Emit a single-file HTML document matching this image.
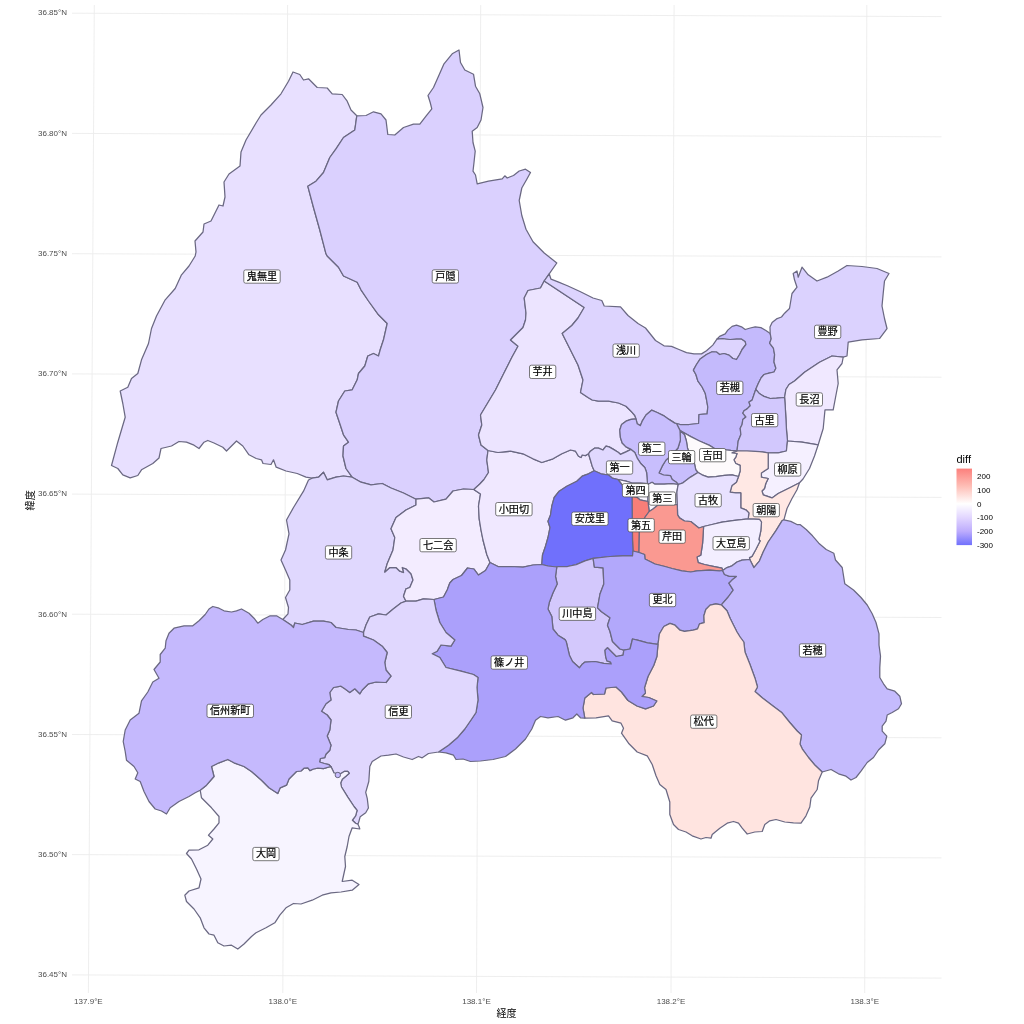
<!DOCTYPE html>
<html lang="ja"><head><meta charset="utf-8"><title>diff map</title>
<style>html,body{margin:0;padding:0;background:#fff}body{width:1024px;height:1024px;overflow:hidden}svg{display:block}text{font-family:"Liberation Sans","Noto Sans CJK JP",sans-serif}.g line{stroke:#ececec;stroke-width:.9}.d path{stroke:#6a6882;stroke-width:1.25;stroke-linejoin:round}.l rect{fill:#fff;stroke:#4d4d4d;stroke-width:.75}.l text{font-size:10.1px;fill:#000;text-anchor:middle;stroke:#000;stroke-width:.2px}.t text{font-size:8px;fill:#4d4d4d}</style></head><body>
<svg width="1024" height="1024" viewBox="0 0 1024 1024">
<rect width="1024" height="1024" fill="#fff"/>
<g class="g">
<line x1="72" y1="13.2" x2="941.5" y2="16.6"/>
<line x1="72" y1="133.4" x2="941.5" y2="136.8"/>
<line x1="72" y1="253.7" x2="941.5" y2="256.9"/>
<line x1="72" y1="373.9" x2="941.5" y2="377.2"/>
<line x1="72" y1="494.1" x2="941.5" y2="497.4"/>
<line x1="72" y1="614.2" x2="941.5" y2="617.5"/>
<line x1="72" y1="734.5" x2="941.5" y2="737.8"/>
<line x1="72" y1="854.6" x2="941.5" y2="857.9"/>
<line x1="72" y1="974.9" x2="941.5" y2="978.1"/>
<line x1="94.3" y1="5" x2="88.4" y2="993"/>
<line x1="287.6" y1="5" x2="282.8" y2="993"/>
<line x1="480.7" y1="5" x2="476.5" y2="993"/>
<line x1="674.1" y1="5" x2="671" y2="993"/>
<line x1="866.8" y1="5" x2="864.7" y2="993"/>
</g>
<g class="d">
<path fill="rgb(232,224,255)" d="M312,478.2 306,477.2 297.2,473.5 286,471 276.2,467.2 273.5,459.8 271,464.5 263,463.5 261.5,459.8 256.2,458.5 249,454.8 242.8,446 236.5,441 231.5,446 226.5,451 222.8,447.2 214,443 207.8,440.5 204,442.2 199,448.5 194,445.2 186.5,442.2 179,441.5 171.5,446 161,448.5 159,458 152.8,463.5 141.5,469.8 137.8,475.5 130.2,477.8 122.8,474.8 117.8,468.5 111.5,465.5 117.8,442.2 125.2,417.2 122.8,403.5 120.2,391 127.8,387.2 131.5,378.5 137.8,373.5 141.5,359.8 148.5,343.5 151.5,328.5 156.5,316 165.2,299.8 175.2,288.5 181.5,274.8 189,266 195.2,256 196,252 195,241 203,232 204,224 211,221 219,205 223,206 225,197 224,182 229,174 240,166 241,152 246,140 256,123 261,115 271,105 281,93.8 288.5,81.2 293,72 299.8,74.5 303.5,80 308.5,78.8 317.2,87.5 327.2,88 332.2,93.8 342.2,94.5 347.2,101.2 351,110 356.8,115.8 354.8,130 343.5,137.5 336,148.8 329.8,157.5 323.5,172.5 316,181.2 307.8,186.2 313.5,207.5 319.8,230 326,253.8 327.2,256 338.5,267.2 343.5,276 357.2,282.2 361,289.8 368.5,301 378.5,314.8 387.2,323.5 383.5,339.8 380.2,349.8 378.5,356 373.5,353.5 367.8,356 364.8,366 358.5,373.5 357.2,379.8 352.2,389.8 344.8,391 338.5,401 336,412.2 339.8,423.5 343.5,434.8 348.5,442.2 343.5,446 343,456 346,468.5 352.2,477.2 343.5,476 336,477.2 327.2,479.8 323.5,472.2 318.5,477.2Z"><title>鬼無里</title></path>
<path fill="rgb(218,208,254)" d="M356.8,115.8 366,115.5 373.5,111.8 381,113.8 386,120 387.8,134.5 394.8,135 403.5,127.5 413.5,124.2 419.8,124.2 426,116.2 431.8,108.8 430.2,102.5 428,95.5 433.5,87.5 438.5,76.2 444,63.8 452.2,53.8 459,50 460.5,62.5 464.8,70 473.5,74.2 475.5,86.2 479.8,93.8 483,107.5 481,120 477.2,127.5 472.2,131.2 473,142.5 475.2,151.2 474,162.5 473,171.2 475.5,175 477.2,183.8 488.5,181.2 502.2,178.8 504.8,175.8 507.2,178 513.5,175.5 519.2,171 525.5,169.2 530.5,172.5 526.8,179.2 521.8,188 519.2,200.5 521.8,215.5 526,229.2 533,241.8 544.2,253 556.8,263 549.2,273.8 544.2,281 540.5,288 528,290.5 524.2,298 526,313 525.5,320 523,327.5 510.5,340 518,346.2 511.8,357.5 503,375 495.5,390 488,402.5 480.5,415 481.8,425 478.5,435 481,445 488,450.5 486.8,460 488.5,472.5 484,479.5 479.8,484 473.8,489.5 463.5,489 453,491 446,499.2 434,502 428.5,497.8 416,499.2 403.5,493 391,488 382.2,483.5 371,484.8 361,482.2 352.2,477.2 346,468.5 343,456 343.5,446 348.5,442.2 343.5,434.8 339.8,423.5 336,412.2 338.5,401 344.8,391 352.2,389.8 357.2,379.8 358.5,373.5 364.8,366 367.8,356 373.5,353.5 378.5,356 380.2,349.8 383.5,339.8 387.2,323.5 378.5,314.8 368.5,301 361,289.8 357.2,282.2 343.5,276 338.5,267.2 327.2,256 326,253.8 319.8,230 313.5,207.5 307.8,186.2 316,181.2 323.5,172.5 329.8,157.5 336,148.8 343.5,137.5 354.8,130Z"><title>戸隠</title></path>
<path fill="rgb(224,216,254)" d="M282.8,619.5 288,613.8 288.5,607.5 285.5,597.5 289.8,590 289.8,580 285.5,570 281,560 285.5,550 289,533.8 286.5,520 293.5,507.5 303.5,491.2 308.5,480 312,478.2 318.5,477.2 323.5,472.2 327.2,479.8 336,477.2 343.5,476 352.2,477.2 361,482.2 371,484.8 382.2,483.5 391,488 403.5,493 416,499.2 416,505 406,510 396,517.5 391,528.8 394.8,537.5 393,550 387.2,563.8 384.8,572 389.8,567.5 396,567.5 399.8,571.2 403.5,572.5 402.2,567.5 406,568.8 411,573.8 413,580 409.8,587.5 406,588.8 403.5,596.2 406,601.2 401,603 393.5,608.8 386,615 378.5,613.8 369.8,617 366,625 363.5,632.5 356,630 348.5,629.5 336,627.5 331,622.5 323.5,621.2 313.5,621.2 302.2,624.5 294.8,623 293.5,627.5 291,625Z"><title>中条</title></path>
<path fill="rgb(243,236,255)" d="M416,499.2 428.5,497.8 434,502 446,499.2 453,491 463.5,489 473.8,489.5 480.5,494 478.5,506 479.2,518.8 481,530 483,540 486.8,554.5 490,562.5 485.5,570.5 478.5,575 474,569 467.5,568 461.5,575.5 453,579.5 449.8,583 447.2,590 443.5,597 434,599.5 423.5,598.8 416,601.2 406,601.2 403.5,596.2 406,588.8 409.8,587.5 413,580 411,573.8 406,568.8 402.2,567.5 403.5,572.5 399.8,571.2 396,567.5 389.8,567.5 384.8,572 387.2,563.8 393,550 394.8,537.5 391,528.8 396,517.5 406,510 416,505Z"><title>七二会</title></path>
<path fill="rgb(240,232,255)" d="M473.8,489.5 479.8,484 484,479.5 488.5,472.5 486.8,460 488,450.5 498,452.5 510.5,451.2 523,453.8 533,458.8 541.8,462.5 553,458.8 561.8,453.8 570.5,450 575.5,451.2 578.5,456.2 581,457.5 582.2,455 585.4,455.6 588.5,453.8 590.4,460 592.2,466.2 594.2,470.8 588.5,473.8 582.2,476.2 576.8,481.2 566.8,486.2 559.2,491.2 554.2,497.5 551.8,506.2 550.5,515 548,521.2 550,527.5 548,537.5 545.5,546.2 542.5,555 541.8,564.5 533,565 523,567.2 510.5,566.5 498,566.5 490,562.5 486.8,554.5 483,540 481,530 479.2,518.8 478.5,506 480.5,494Z"><title>小田切</title></path>
<path fill="rgb(236,228,255)" d="M488,450.5 481,445 478.5,435 481.8,425 480.5,415 488,402.5 495.5,390 503,375 511.8,357.5 518,346.2 510.5,340 523,327.5 525.5,320 526,313 524.2,298 528,290.5 540.5,288 544.2,281 584.2,307.5 578,318 571.8,325.5 562.2,333.5 570.5,350 578,365 583,380 580.5,392.5 588,397.5 592.2,400 598.5,401.2 608.5,401.2 618.5,403 626,406.2 631,411.2 634.8,415.5 636,418.8 631,419.4 626,421.2 621.6,424.4 619.8,430 620.4,437.5 622.2,443 626,446.9 631,449.4 626,451.9 620.4,454.4 618.5,452.5 613.5,449.4 609.1,446.9 606,446.2 602.9,450 598.5,448.1 594.8,448.1 590.4,451.2 588.5,453.8 585.4,455.6 582.2,455 581,457.5 578.5,456.2 575.5,451.2 570.5,450 561.8,453.8 553,458.8 541.8,462.5 533,458.8 523,453.8 510.5,451.2 498,452.5Z"><title>芋井</title></path>
<path fill="rgb(221,212,254)" d="M544.2,281 549.2,273.8 551,279.2 558,281.8 568,286 580.5,291.8 593,298 601.8,300.5 604.2,306 620.5,306.8 628,315.5 638,323.5 645.5,328 655.5,340.5 664,345.8 671.5,346.4 679,349.5 686.5,352.6 694,353.9 701.5,353.9 706.5,350.8 712.8,345.1 717.1,338.9 722.8,338.5 730.2,339.5 736.5,338.9 741.5,338.9 745.2,341.4 745.9,344.5 742.1,349.5 739.6,354.5 736.5,359.5 732.8,358.5 729,355.1 724,353.5 719.6,354.5 716.5,352 712.1,351.8 706.5,354.5 700.2,358.9 696.5,364.5 693.4,370.1 695.9,374.5 697.8,380.8 702.1,387 705.2,393.2 706.5,399.5 707.8,407 707.1,413.9 699,414.5 698.6,423.5 689,424.5 680.2,424.5 676.5,423.5 674.8,423.1 669,419.4 663.5,415.6 657.2,412.5 651.6,410.2 646,415 642.2,421.2 640.4,425.6 637.2,423.8 636,418.8 634.8,415.5 631,411.2 626,406.2 618.5,403 608.5,401.2 598.5,401.2 592.2,400 588,397.5 580.5,392.5 583,380 578,365 570.5,350 562.2,333.5 571.8,325.5 578,318 584.2,307.5Z"><title>浅川</title></path>
<path fill="rgb(196,186,252)" d="M717.1,338.9 719.6,336.4 725.2,333.9 727.8,330.1 732.1,326.4 736.5,325.1 741.5,326.8 745.2,329.5 750.2,328 755.2,326.8 760.9,327.6 765.9,330.5 770.2,333.5 771.2,338.9 769.6,343.2 773.4,348.2 774.6,354.5 774,362 775.9,368.2 774,372 769,373.2 764,374.5 760.9,378.2 758.4,383.2 755.8,389.3 754,394.5 752.1,400.1 749,402 750.2,405.8 747.1,408.9 744,410.8 742.8,413.2 745.9,417 742.8,419.5 742.1,424.5 740.2,428.2 740.9,434.5 738.2,441 737,450.8 730.8,450.4 722,449.5 714.5,448.5 709.5,445.4 699.5,441 690.8,436.6 680,430.5 676.5,423.5 680.2,424.5 689,424.5 698.6,423.5 699,414.5 707.1,413.9 707.8,407 706.5,399.5 705.2,393.2 702.1,387 697.8,380.8 695.9,374.5 693.4,370.1 696.5,364.5 700.2,358.9 706.5,354.5 712.1,351.8 716.5,352 719.6,354.5 724,353.5 729,355.1 732.8,358.5 736.5,359.5 739.6,354.5 742.1,349.5 745.9,344.5 745.2,341.4 741.5,338.9 736.5,338.9 730.2,339.5 722.8,338.5Z"><title>若槻</title></path>
<path fill="rgb(219,210,254)" d="M770.2,333.5 770,327 772.1,322.6 776.5,318.9 781.5,317 784.6,313.2 789.5,308.5 792,293.5 797,287.2 794.5,279.8 793.2,273.5 797,271 798.2,277.2 802,267.2 808.2,274.8 817,281 827,277.2 838.2,271 847,265.5 862,266.5 877,268.5 889,273.5 884.5,281 883.2,293.5 882,306 884.5,318.5 887,328.5 879.5,338.5 862,339.8 848.2,342.2 847,356 843.2,357.2 832,356 819.5,362.2 804.5,372.2 794.5,381 789,384.5 785.9,389.5 784.6,397.5 776.5,398.2 770.2,398.5 764,396.4 759,393.2 755.8,389.3 758.4,383.2 760.9,378.2 764,374.5 769,373.2 774,372 775.9,368.2 774,362 774.6,354.5 773.4,348.2 769.6,343.2 771.2,338.9Z"><title>豊野</title></path>
<path fill="rgb(240,232,255)" d="M843.2,357.2 842,363.5 837,369.8 838.2,383.5 835.8,396 833.2,409.8 825,409.8 823.2,428.5 818.2,444.8 802,442.2 787.5,441 786.5,430 785.9,418.2 785.2,405.8 784.6,397.5 785.9,389.5 789,384.5 794.5,381 804.5,372.2 819.5,362.2 832,356Z"><title>長沼</title></path>
<path fill="rgb(210,200,253)" d="M755.8,389.3 759,393.2 764,396.4 770.2,398.5 776.5,398.2 784.6,397.5 785.2,405.8 785.9,418.2 786.5,430 787.5,441 786.4,451 778.2,452.9 768.2,452.8 759.5,451.6 747,451 737,450.8 738.2,441 740.9,434.5 740.2,428.2 742.1,424.5 742.8,419.5 745.9,417 742.8,413.2 744,410.8 747.1,408.9 750.2,405.8 749,402 752.1,400.1 754,394.5Z"><title>古里</title></path>
<path fill="rgb(245,240,255)" d="M787.5,441 802,442.2 818.2,444.8 814.5,456 809.5,468.5 803,479 799.5,482.7 790.8,487.2 778.2,493.5 772,497.9 763.2,494.8 762,491 764.5,488.5 765.8,483.5 768.2,478.5 761.4,477.2 761.4,472.9 768.2,468.5 768.2,452.8 778.2,452.9 786.4,451Z"><title>柳原</title></path>
<path fill="rgb(255,232,228)" d="M737,450.8 747,451 759.5,451.6 768.2,452.8 768.2,468.5 761.4,472.9 761.4,477.2 768.2,478.5 765.8,483.5 764.5,488.5 762,491 763.2,494.8 772,497.9 778.2,493.5 790.8,487.2 799.5,482.7 797,489.8 792,498.5 787,508.5 783.9,519.8 782,520.8 775.8,530.8 768.2,542 763.2,552 759.5,560.8 753.9,567.6 749.8,559.5 749.5,557.6 752,556.4 755.8,549.5 760.1,541 758.9,539.5 760.8,530.8 761.5,522 759.5,519.3 748.2,518.8 748.9,512.9 745.8,509.8 740.8,507.9 740.8,501 740.8,492.9 735.8,492.9 730.1,492.2 732,485.4 736.4,482.2 738.5,476.5 740.1,471 740.1,465.4 735.8,463.5 733.9,459.8 735.8,457.2 737,453.5 732,452.9Z"><title>朝陽</title></path>
<path fill="rgb(253,250,252)" d="M680,430.5 690.8,436.6 699.5,441 709.5,445.4 714.5,448.5 722,449.5 730.8,450.4 737,450.8 732,452.9 737,453.5 735.8,457.2 733.9,459.8 735.8,463.5 740.1,465.4 740.1,471 738.5,476.5 732,474.8 724.5,475.4 715.8,476.6 708.2,477.2 702,474.8 698,472.5 695.8,469.8 694.5,463.8 691,457 687.6,448.5 686.4,441 684.5,434.8Z"><title>吉田</title></path>
<path fill="rgb(200,190,253)" d="M680,430.5 684.5,434.8 686.4,441 687.6,448.5 691,457 694.5,463.8 695.8,469.8 698,472.5 690.5,477.1 683,482.8 678.3,484.5 676,481.9 672.2,479.4 670.4,475.6 663.5,475 659,473 662.2,466.2 666,460 672,455 678,448 680.4,440Z"><title>三輪</title></path>
<path fill="rgb(200,190,253)" d="M636,418.8 637.2,423.8 640.4,425.6 642.2,421.2 646,415 651.6,410.2 657.2,412.5 663.5,415.6 669,419.4 674.8,423.1 676.5,423.5 680,430.5 680.4,440 678,448 672,455 666,460 662.2,466.2 659,473 663.5,475 670.4,475.6 672.2,479.4 676,481.9 678.3,484.5 671.8,483.7 664.2,484.2 654.9,484.2 652.1,482.3 648.3,484.2 647.5,483.5 647.2,480 646.6,472.5 644.8,467.5 641,463.8 637.2,458.1 634.8,452.5 631,449.4 626,446.9 622.2,443 620.4,437.5 619.8,430 621.6,424.4 626,421.2 631,419.4Z"><title>第二</title></path>
<path fill="rgb(224,216,254)" d="M631,449.4 626,451.9 620.4,454.4 618.5,452.5 613.5,449.4 609.1,446.9 606,446.2 602.9,450 598.5,448.1 594.8,448.1 590.4,451.2 588.5,453.8 590.4,460 592.2,466.2 594.2,470.8 601,473.8 608.5,475 612.2,478.1 618,479.5 626,481.2 632.2,483 640,483 647.5,483.5 647.2,480 646.6,472.5 644.8,467.5 641,463.8 637.2,458.1 634.8,452.5Z"><title>第一</title></path>
<path fill="rgb(250,247,255)" d="M618,479.5 626,481.2 632.2,483 640,483 647.5,483.5 648,492 648,501.5 643.6,500.6 639.9,499.8 637.2,497.5 632,496.5 629.8,495 626,490 622.2,485Z"><title>第四</title></path>
<path fill="rgb(250,248,255)" d="M647.5,483.5 648.3,484.2 652.1,482.3 654.9,484.2 664.2,484.2 671.8,483.7 678.3,484.5 677.8,486.5 676.9,492.1 677.3,504.5 657.7,505.2 653,509 649.2,511.5 648,501.5 648,492Z"><title>第三</title></path>
<path fill="rgb(248,126,120)" d="M632,496.5 637.2,497.5 639.9,499.8 643.6,500.6 648,501.5 649.2,511.5 645.5,516.5 641,524 639.4,529.6 639,552.5 633,551 632.5,540 632.2,512Z"><title>第五</title></path>
<path fill="rgb(232,225,255)" d="M678.3,484.5 683,482.8 690.5,477.1 698,472.5 702,474.8 708.2,477.2 715.8,476.6 724.5,475.4 732,474.8 738.5,476.5 736.4,482.2 732,485.4 730.1,492.2 735.8,492.9 740.8,492.9 740.8,501 740.8,507.9 745.8,509.8 748.9,512.9 748.2,518.8 734.5,520.4 722,522.2 712,524.5 703.6,526.5 698.9,528 694.5,524.6 690.8,521.5 684.5,521 679.5,517.9 677.6,514.8 677.3,504.5 676.9,492.1 677.8,486.5Z"><title>古牧</title></path>
<path fill="rgb(243,238,255)" d="M703.6,526.5 712,524.5 722,522.2 734.5,520.4 748.2,518.8 759.5,519.3 761.5,522 760.8,530.8 758.9,539.5 760.1,541 755.8,549.5 752,556.4 749.5,557.6 749.8,559.5 742,560.1 737,562 732,565.8 727,567.6 722.6,570.5 722,568.2 713.2,566.4 704.5,564.5 698.2,562.6 697,557 700.8,555.1 702.6,543.2Z"><title>大豆島</title></path>
<path fill="rgb(250,153,145)" d="M649.2,511.5 653,509 657.7,505.2 677.3,504.5 677.6,514.8 679.5,517.9 684.5,521 690.8,521.5 694.5,524.6 698.9,528 703.6,526.5 702.6,543.2 700.8,555.1 697,557 698.2,562.6 704.5,564.5 713.2,566.4 722,568.2 722.6,570.5 719.5,570.8 709.5,570.1 697,570.8 690.8,572 682,570.8 672,568.5 665,566.5 655,564 645,559 644.6,554.5 639,552.5 639.4,529.6 641,524 645.5,516.5Z"><title>芹田</title></path>
<path fill="rgb(112,112,252)" d="M594.2,470.8 601,473.8 608.5,475 612.2,478.1 618,479.5 622.2,485 626,490 629.8,495 632,496.5 632.2,512 632.5,540 633,551 632.5,555.9 622.5,555.9 610,556.5 593.1,558.4 585,560.9 576.2,564.6 567.5,566.5 558,566.5 556.8,567 548,566 541.8,564.5 542.5,555 545.5,546.2 548,537.5 550,527.5 548,521.2 550.5,515 551.8,506.2 554.2,497.5 559.2,491.2 566.8,486.2 576.8,481.2 582.2,476.2 588.5,473.8Z"><title>安茂里</title></path>
<path fill="rgb(211,200,252)" d="M556.8,567 558,566.5 567.5,566.5 576.2,564.6 585,560.9 593.1,558.4 594.4,567.1 603.1,567.8 603.8,584 600,594 597.5,607.8 601.2,611.5 610,617.8 607.5,625.2 610,631.5 612.5,641.5 616.2,645.2 620,649 623.8,650.2 623.1,655.2 616.2,656.5 611.2,651.5 607.5,647.8 605,650.2 605.6,656.5 606.9,660.9 610.6,662.1 611.2,664 603.8,663.4 595,661.5 585,662.1 581.9,664.6 579.4,667.8 572.5,661.5 569.4,655.2 566.2,641.5 565,639.6 558,635.2 553,629 551.8,616.5 548,609 549.2,602.8 553,592.8 557.2,584 555.5,576.5Z"><title>川中島</title></path>
<path fill="rgb(178,168,251)" d="M593.1,558.4 610,556.5 622.5,555.9 632.5,555.9 633,551 639,552.5 644.6,554.5 645,559 655,564 665,566.5 672,568.5 682,570.8 690.8,572 697,570.8 709.5,570.1 719.5,570.8 722.6,570.5 724.5,574.5 729.5,576.4 736.4,576.4 732,580.1 728.9,583.2 733.2,590.1 728.2,597 721.3,604.8 715.8,603.9 710.1,605.1 705.8,609.5 703.9,615.8 704.2,622.6 699.5,623.9 697.6,628.9 693.2,630.1 684.5,631.4 680,630.2 675,625.2 670,623.4 663.8,626.5 659.4,634 658,644.3 647.5,642.8 637.5,640.2 632.5,639 630,649 623.8,650.2 620,649 616.2,645.2 612.5,641.5 610,631.5 607.5,625.2 610,617.8 601.2,611.5 597.5,607.8 600,594 603.8,584 603.1,567.8 594.4,567.1Z"><title>更北</title></path>
<path fill="rgb(197,187,253)" d="M783.9,519.8 790.8,521.4 797,524.5 800,524.5 806.2,529.5 812.5,535.8 818.8,543.2 826.2,549.5 833.8,553.2 835.5,560 842.2,567.5 844.8,583.8 853.5,590 861,597.5 867.2,605 872.2,613.8 876,622.5 879,633.8 879,645 880.5,656.2 879.8,667.5 879.8,677.5 883.5,683.8 887.2,688.8 894.8,691.2 899.8,696.2 901.5,703.8 898.5,708.8 892.2,712.5 887.2,715 886,721.2 882.2,726.2 882.2,731.2 886.8,736.2 884.8,743.8 878.5,750 873.5,757.5 867.2,762.5 861,771.2 856,777.5 851,780 846,776.2 838.5,773.8 831,769.5 822.2,772 814.8,765 808.5,757.5 802.2,748.8 800,744 801.5,735 797.2,731 789.8,722.5 782,712.8 773,706 762.5,698 755,691.5 757.5,687 755,678.2 750,664.5 745,652 743.8,642 740.1,637 737,632 733.2,624.5 730.1,618.2 727,610.8 721.3,604.8 728.2,597 733.2,590.1 728.9,583.2 732,580.1 736.4,576.4 729.5,576.4 724.5,574.5 722.6,570.5 727,567.6 732,565.8 737,562 742,560.1 749.8,559.5 753.9,567.6 759.5,560.8 763.2,552 768.2,542 775.8,530.8 782,520.8Z"><title>若穂</title></path>
<path fill="rgb(255,228,224)" d="M822.2,772 818.5,780.8 817.2,789.5 811,798.2 809.8,807 806,815.8 801,823.2 793.5,822.8 784.8,822 776,819.5 769.8,820.8 764.8,824.5 762.2,831.5 754.8,832 747.2,834 742.2,828.2 738.5,823.2 733.5,821.5 727.2,823.2 719.8,828.2 712.2,834.5 711,838.2 706,837.5 701,839 692.2,835.8 686,832 678.5,829.5 673.5,824.5 669.8,814.5 669.8,802 666,789.5 659.8,784.5 656,775.8 652.2,764.5 647.2,755.8 637.2,752 628.5,743.2 621.5,733.2 623.5,728.2 621,723.2 612.2,720.8 608.5,715.8 596,717.8 584.8,718.2 583,708 584.8,698 591.5,692.5 593.5,694.5 604.5,694 606,688 616,687 621.5,692 628,700.5 637,706 645.5,708.8 653.5,706 656.8,701 648.8,697.5 642,696.5 645.5,693 644.5,687.8 648,676.5 653.8,665.2 656.9,656.5 658,644.3 659.4,634 663.8,626.5 670,623.4 675,625.2 680,630.2 684.5,631.4 693.2,630.1 697.6,628.9 699.5,623.9 704.2,622.6 703.9,615.8 705.8,609.5 710.1,605.1 715.8,603.9 721.3,604.8 727,610.8 730.1,618.2 733.2,624.5 737,632 740.1,637 743.8,642 745,652 750,664.5 755,678.2 757.5,687 755,691.5 762.5,698 773,706 782,712.8 789.8,722.5 797.2,731 801.5,735 800,744 802.2,748.8 808.5,757.5 814.8,765Z"><title>松代</title></path>
<path fill="rgb(171,160,251)" d="M584.8,718.2 580.5,717.8 576.8,714 573,717.8 565.5,720.2 558,716.5 548,717.8 540.5,716.5 535.5,720.2 531.8,729 525.5,739 515.5,749 505.5,756.5 493,759.5 480.5,761 470.5,761.5 463,759 456,759.5 453.5,755.2 446,752.8 438.5,752 448.5,745.2 457.2,737.8 464.8,729 471,720 476,712.5 478,700 477,687.5 478,677.5 473.5,674.5 461,671.2 446,667.5 439.8,657.5 432.2,653.8 437.2,651.2 441,645 451,646.2 454.8,640 446,632.5 439.8,622.5 436,610 434,599.5 443.5,597 447.2,590 449.8,583 453,579.5 461.5,575.5 467.5,568 474,569 478.5,575 485.5,570.5 490,562.5 498,566.5 510.5,566.5 523,567.2 533,565 541.8,564.5 548,566 556.8,567 555.5,576.5 557.2,584 553,592.8 549.2,602.8 548,609 551.8,616.5 553,629 558,635.2 565,639.6 566.2,641.5 569.4,655.2 572.5,661.5 579.4,667.8 581.9,664.6 585,662.1 595,661.5 603.8,663.4 611.2,664 610.6,662.1 606.9,660.9 605.6,656.5 605,650.2 607.5,647.8 611.2,651.5 616.2,656.5 623.1,655.2 623.8,650.2 630,649 632.5,639 637.5,640.2 647.5,642.8 658,644.3 656.9,656.5 653.8,665.2 648,676.5 644.5,687.8 645.5,693 642,696.5 648.8,697.5 656.8,701 653.5,706 645.5,708.8 637,706 628,700.5 621.5,692 616,687 606,688 604.5,694 593.5,694.5 591.5,692.5 584.8,698 583,708Z"><title>篠ノ井</title></path>
<path fill="rgb(224,215,254)" d="M438.5,752 428.5,753.5 422.2,757.8 418.5,756.5 412.2,759.5 403.5,757 396,754 388.5,755.2 381,756 372.2,761.5 369.8,766.5 368.8,781.5 365.7,792.4 367.3,798.7 368.4,808 365.7,812.8 360.2,816.7 358.7,822.1 357.9,824.3 355.6,823.3 352.4,820.2 355.6,815.9 357.1,810.4 354,806.5 347.8,797.1 341.5,787 340.7,783 342.3,779.2 346.2,776 349.3,773.3 347.8,771.3 344.6,771.3 341,773.5 334,773 332.5,769.8 331,766.7 329,764.7 324.3,763.5 319.6,762 320.4,758.5 324.7,757.7 325.9,754.2 329.8,750.2 331,745.2 327.2,736 329.8,730 331,720 327.2,715 321.5,711.2 326,703.8 331,700 329.8,692.5 333.5,687.5 341,686.2 344.8,688.8 349.8,692.5 354.8,688.8 359.8,693.8 362.2,690 368.5,683.8 376,682 386,682.5 391,676.2 386,670 384.8,662.5 387.2,652.5 382.2,646.2 373.5,640 363.5,636.2 363.5,632.5 366,625 369.8,617 378.5,613.8 386,615 393.5,608.8 401,603 406,601.2 416,601.2 423.5,598.8 434,599.5 436,610 439.8,622.5 446,632.5 454.8,640 451,646.2 441,645 437.2,651.2 432.2,653.8 439.8,657.5 446,667.5 461,671.2 473.5,674.5 478,677.5 477,687.5 478,700 476,712.5 471,720 464.8,729 457.2,737.8 448.5,745.2Z"><title>信更</title></path>
<path fill="rgb(247,244,255)" d="M357.9,824.3 359,826.5 359.8,829 352.2,827.8 349,836.5 347.2,846.5 344.8,856.5 345.5,866.5 342.2,881.5 352.2,880.2 359,884.5 352.2,890.2 341,892 331,892.8 322.2,895.2 312.2,900.2 301,904 293.5,903.5 286,907.8 279.8,915.2 274.8,922.8 266,927.8 256,932.8 251.5,936.5 244,944 237.8,949 231.5,945.2 224,946 217.8,942.8 214,935.2 209,934 204,927.8 200.2,917.8 194,909 186.5,901.5 184.8,895.2 189,891 199,887.8 201,879 196.5,869 191.5,859 186.5,853.5 189,850.2 199,849.8 207.8,845.2 212.8,839 208.5,835.2 214,829 219,822.8 219,816.5 211.5,807.8 201.5,797.8 200.2,790.2 206.5,785.2 214,776.5 211.5,766.5 219,762.8 227.8,759.5 234,762.8 244,766.5 251.5,771.5 261.5,780.2 269,787.8 277.8,793.5 280.2,787.8 286.5,785.2 289,779 296.5,771.5 301,771 304,768.2 307.9,767.8 309.9,770.6 313.4,769 318,768.2 323.5,768.6 329,767 331,766.7 332.5,769.8 334,773 341,773.5 344.6,771.3 347.8,771.3 349.3,773.3 346.2,776 342.3,779.2 340.7,783 341.5,787 347.8,797.1 354,806.5 357.1,810.4 355.6,815.9 352.4,820.2 355.6,823.3Z"><title>大岡</title></path>
<path fill="rgb(197,185,253)" d="M200.2,790.2 195.2,792.8 189,796.5 179,801.5 170.2,807.8 166.5,814 161.5,811 155.2,809 149,801.5 144,791.5 140.2,781.5 135.2,779 137.8,772.8 134,766.5 126.5,760.2 125.2,751.5 123.2,741.5 125.2,730 130.2,720 139,713.2 141.5,700.8 147.8,692 152.8,682 159,678.2 154,669.5 160.2,662 160.2,654.5 165.2,648.2 166,640.8 169,633.2 174,628.2 184,625.8 192.8,625.8 199,620.8 205.2,614.5 209,609 212.8,606.5 219,608.2 224,610.8 231.5,612 236.5,610.8 241.5,609 249,613.2 254,618.2 257.8,623.2 262.8,619.5 270.2,615.8 276.5,615.8 282.8,619.5 291,625 293.5,627.5 294.8,623 302.2,624.5 313.5,621.2 323.5,621.2 331,622.5 336,627.5 348.5,629.5 356,630 363.5,632.5 363.5,636.2 373.5,640 382.2,646.2 387.2,652.5 384.8,662.5 386,670 391,676.2 386,682.5 376,682 368.5,683.8 362.2,690 359.8,693.8 354.8,688.8 349.8,692.5 344.8,688.8 341,686.2 333.5,687.5 329.8,692.5 331,700 326,703.8 321.5,711.2 327.2,715 331,720 329.8,730 327.2,736 331,745.2 329.8,750.2 325.9,754.2 324.7,757.7 320.4,758.5 319.6,762 324.3,763.5 329,764.7 331,766.7 329,767 323.5,768.6 318,768.2 313.4,769 309.9,770.6 307.9,767.8 304,768.2 301,771 296.5,771.5 289,779 286.5,785.2 280.2,787.8 277.8,793.5 269,787.8 261.5,780.2 251.5,771.5 244,766.5 234,762.8 227.8,759.5 219,762.8 211.5,766.5 214,776.5 206.5,785.2Z"><title>信州新町</title></path>
<circle cx="337.8" cy="775" r="2.7" fill="rgb(197,185,253)" stroke="#6a6882" stroke-width="1"/>
</g>
<g class="l">
<rect x="243.8" y="269.9" width="36.4" height="13.3" rx="1.8"/>
<text x="262" y="279.9">鬼無里</text>
<rect x="432.2" y="269.8" width="26.3" height="13.3" rx="1.8"/>
<text x="445.4" y="279.8">戸隠</text>
<rect x="325.4" y="545.8" width="26.3" height="13.3" rx="1.8"/>
<text x="338.5" y="555.8">中条</text>
<rect x="419.9" y="538.5" width="36.4" height="13.3" rx="1.8"/>
<text x="438.1" y="548.5">七二会</text>
<rect x="495.7" y="502.5" width="36.4" height="13.3" rx="1.8"/>
<text x="513.9" y="512.5">小田切</text>
<rect x="529.5" y="365.2" width="26.3" height="13.3" rx="1.8"/>
<text x="542.6" y="375.3">芋井</text>
<rect x="613" y="344" width="26.3" height="13.3" rx="1.8"/>
<text x="626.1" y="354">浅川</text>
<rect x="716.6" y="381.2" width="26.3" height="13.3" rx="1.8"/>
<text x="729.8" y="391.2">若槻</text>
<rect x="814.5" y="325.2" width="26.3" height="13.3" rx="1.8"/>
<text x="827.6" y="335.3">豊野</text>
<rect x="796.2" y="392.8" width="26.3" height="13.3" rx="1.8"/>
<text x="809.4" y="402.8">長沼</text>
<rect x="751.5" y="413.5" width="26.3" height="13.3" rx="1.8"/>
<text x="764.6" y="423.5">古里</text>
<rect x="774.5" y="462.8" width="26.3" height="13.3" rx="1.8"/>
<text x="787.6" y="472.8">柳原</text>
<rect x="753.1" y="503.5" width="26.3" height="13.3" rx="1.8"/>
<text x="766.3" y="513.5">朝陽</text>
<rect x="699.5" y="448.5" width="26.3" height="13.3" rx="1.8"/>
<text x="712.6" y="458.5">吉田</text>
<rect x="668.5" y="450.5" width="26.3" height="13.3" rx="1.8"/>
<text x="681.6" y="460.5">三輪</text>
<rect x="638.6" y="442.1" width="26.3" height="13.3" rx="1.8"/>
<text x="651.8" y="452.1">第二</text>
<rect x="606.4" y="460.9" width="26.3" height="13.3" rx="1.8"/>
<text x="619.5" y="470.9">第一</text>
<rect x="622.4" y="483.6" width="26.3" height="13.3" rx="1.8"/>
<text x="635.5" y="493.6">第四</text>
<rect x="649.2" y="491.9" width="26.3" height="13.3" rx="1.8"/>
<text x="662.4" y="501.9">第三</text>
<rect x="628" y="518.6" width="26.3" height="13.3" rx="1.8"/>
<text x="641.1" y="528.6">第五</text>
<rect x="695" y="493.6" width="26.3" height="13.3" rx="1.8"/>
<text x="708.1" y="503.6">古牧</text>
<rect x="713" y="536.6" width="36.4" height="13.3" rx="1.8"/>
<text x="731.2" y="546.6">大豆島</text>
<rect x="659" y="530" width="26.3" height="13.3" rx="1.8"/>
<text x="672.1" y="540">芹田</text>
<rect x="571.7" y="512.1" width="36.4" height="13.3" rx="1.8"/>
<text x="589.9" y="522.1">安茂里</text>
<rect x="559.2" y="607.1" width="36.4" height="13.3" rx="1.8"/>
<text x="577.4" y="617.1">川中島</text>
<rect x="649.4" y="593.4" width="26.3" height="13.3" rx="1.8"/>
<text x="662.5" y="603.4">更北</text>
<rect x="799.4" y="643.8" width="26.3" height="13.3" rx="1.8"/>
<text x="812.5" y="653.8">若穂</text>
<rect x="690.6" y="715" width="26.3" height="13.3" rx="1.8"/>
<text x="703.7" y="725">松代</text>
<rect x="491.1" y="655.9" width="36.4" height="13.3" rx="1.8"/>
<text x="509.2" y="665.9">篠ノ井</text>
<rect x="385.2" y="705.1" width="26.3" height="13.3" rx="1.8"/>
<text x="398.4" y="715.1">信更</text>
<rect x="252.8" y="847.4" width="26.3" height="13.3" rx="1.8"/>
<text x="266" y="857.4">大岡</text>
<rect x="207" y="704.2" width="46.5" height="13.3" rx="1.8"/>
<text x="230.2" y="714.3">信州新町</text>
</g>
<g class="t">
<text x="67" y="15.4" text-anchor="end">36.85°N</text>
<text x="67" y="135.6" text-anchor="end">36.80°N</text>
<text x="67" y="255.8" text-anchor="end">36.75°N</text>
<text x="67" y="376.1" text-anchor="end">36.70°N</text>
<text x="67" y="496.2" text-anchor="end">36.65°N</text>
<text x="67" y="616.5" text-anchor="end">36.60°N</text>
<text x="67" y="736.7" text-anchor="end">36.55°N</text>
<text x="67" y="856.9" text-anchor="end">36.50°N</text>
<text x="67" y="977.1" text-anchor="end">36.45°N</text>
<text x="88.4" y="1004.4" text-anchor="middle">137.9°E</text>
<text x="282.8" y="1004.4" text-anchor="middle">138.0°E</text>
<text x="476.5" y="1004.4" text-anchor="middle">138.1°E</text>
<text x="671" y="1004.4" text-anchor="middle">138.2°E</text>
<text x="864.7" y="1004.4" text-anchor="middle">138.3°E</text>
</g>
<text x="506.6" y="1016.8" font-size="10.1" text-anchor="middle" fill="#000">経度</text>
<text transform="translate(34,500.3) rotate(-90)" font-size="10.1" text-anchor="middle" fill="#000">緯度</text>
<defs><linearGradient id="lg" x1="0" y1="0" x2="0" y2="1"><stop offset="0" stop-color="rgb(252,128,124)"/><stop offset="0.23" stop-color="rgb(254,190,182)"/><stop offset="0.46" stop-color="rgb(255,255,255)"/><stop offset="0.64" stop-color="rgb(226,214,255)"/><stop offset="0.82" stop-color="rgb(189,172,253)"/><stop offset="1" stop-color="rgb(112,112,252)"/></linearGradient></defs>
<rect x="956.5" y="468.6" width="15.5" height="76.5" fill="url(#lg)"/>
<text x="956.5" y="463" font-size="11" fill="#000">diff</text>
<text x="977" y="479.2" font-size="8" fill="#000">200</text>
<text x="977" y="493.2" font-size="8" fill="#000">100</text>
<text x="977" y="506.7" font-size="8" fill="#000">0</text>
<text x="977" y="520.4" font-size="8" fill="#000">-100</text>
<text x="977" y="534.2" font-size="8" fill="#000">-200</text>
<text x="977" y="547.9" font-size="8" fill="#000">-300</text>
</svg></body></html>
